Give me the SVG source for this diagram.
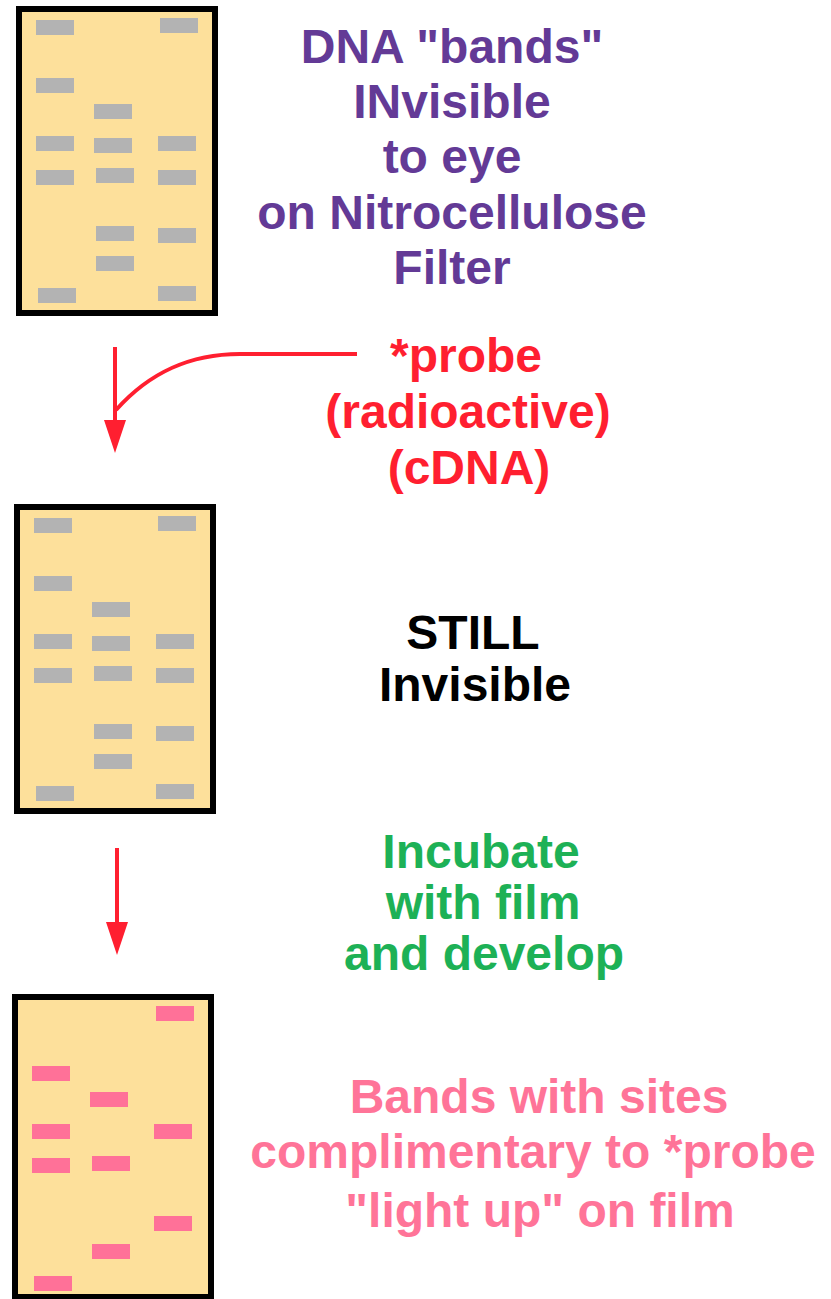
<svg xmlns="http://www.w3.org/2000/svg" width="831" height="1299" viewBox="0 0 831 1299">
<style>
.filter{fill:#fde09b;stroke:#000;stroke-width:6}
.g{fill:#b3b3b3}
.p{fill:#ff7198}
.t{font-family:"Liberation Sans",Arial,sans-serif;font-weight:bold;font-size:48px;text-anchor:middle}
.purple{fill:#633a96}
.red{fill:#ff1f30}
.black{fill:#000}
.green{fill:#1db156}
.pink{fill:#ff7498}
.conn{fill:none;stroke:#ff1f30;stroke-width:4}
</style>
<defs>
<marker id="head" markerUnits="userSpaceOnUse" markerWidth="34" markerHeight="22" refX="0" refY="11" orient="auto" viewBox="0 0 34 22">
<path d="M0,0 L33,11 L0,22 Z" fill="#ff1f30"/>
</marker>
<rect id="band" width="38" height="15"/>
</defs>
<rect width="831" height="1299" fill="#fff"/>

<g id="filter1">
<rect class="filter" x="19" y="9" width="196" height="304"/>
<g class="g">
<use href="#band" x="36" y="20"/><use href="#band" x="36" y="78"/><use href="#band" x="36" y="136"/><use href="#band" x="36" y="170"/><use href="#band" x="38" y="288"/>
<use href="#band" x="94" y="104"/><use href="#band" x="94" y="138"/><use href="#band" x="96" y="168"/><use href="#band" x="96" y="226"/><use href="#band" x="96" y="256"/>
<use href="#band" x="160" y="18"/><use href="#band" x="158" y="136"/><use href="#band" x="158" y="170"/><use href="#band" x="158" y="228"/><use href="#band" x="158" y="286"/>
</g>
</g>

<g id="filter2">
<rect class="filter" x="17" y="507" width="196" height="304"/>
<g class="g">
<use href="#band" x="34" y="518"/><use href="#band" x="34" y="576"/><use href="#band" x="34" y="634"/><use href="#band" x="34" y="668"/><use href="#band" x="36" y="786"/>
<use href="#band" x="92" y="602"/><use href="#band" x="92" y="636"/><use href="#band" x="94" y="666"/><use href="#band" x="94" y="724"/><use href="#band" x="94" y="754"/>
<use href="#band" x="158" y="516"/><use href="#band" x="156" y="634"/><use href="#band" x="156" y="668"/><use href="#band" x="156" y="726"/><use href="#band" x="156" y="784"/>
</g>
</g>

<g id="film">
<rect class="filter" x="15" y="997" width="196" height="300"/>
<g class="p">
<use href="#band" x="156" y="1006"/><use href="#band" x="32" y="1066"/><use href="#band" x="90" y="1092"/><use href="#band" x="32" y="1124"/><use href="#band" x="154" y="1124"/>
<use href="#band" x="32" y="1158"/><use href="#band" x="92" y="1156"/><use href="#band" x="154" y="1216"/><use href="#band" x="92" y="1244"/><use href="#band" x="34" y="1276"/>
</g>
</g>

<g id="label1" class="t purple">
<text x="452" y="63">DNA "bands"</text>
<text x="452" y="118">INvisible</text>
<text x="452" y="173">to eye</text>
<text x="452" y="229">on Nitrocellulose</text>
<text x="452" y="284">Filter</text>
</g>

<g id="probe" class="t red">
<text x="466" y="372">*probe</text>
<text x="468" y="428">(radioactive)</text>
<text x="469" y="484">(cDNA)</text>
</g>

<g id="label2" class="t black">
<text x="473" y="649">STILL</text>
<text x="475" y="701">Invisible</text>
</g>

<g id="label3" class="t green">
<text x="481" y="868">Incubate</text>
<text x="483" y="919">with film</text>
<text x="484" y="970">and develop</text>
</g>

<g id="label4" class="t pink">
<text x="539" y="1113">Bands with sites</text>
<text x="533" y="1168">complimentary to *probe</text>
<text x="540" y="1227">"light up" on film</text>
</g>

<g id="connectors">
<path class="conn" d="M115,347 V420" marker-end="url(#head)"/>
<path class="conn" d="M357,354 H240 C190,354 150,372 116,410"/>
<path class="conn" d="M117,848 V922" marker-end="url(#head)"/>
</g>
</svg>
